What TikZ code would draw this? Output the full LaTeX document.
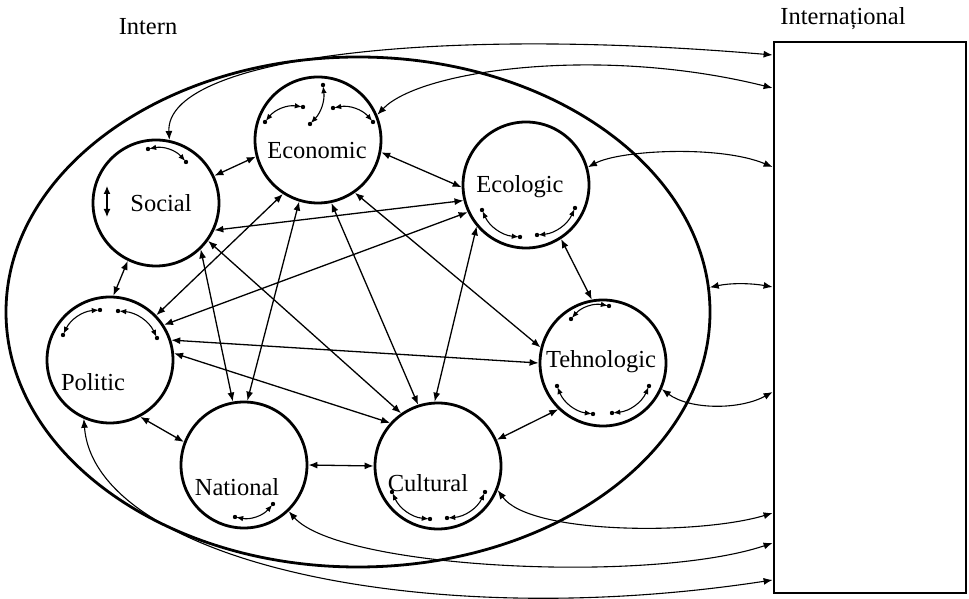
\documentclass[tikz,border=0pt]{standalone}
\usepackage{fontspec}
\setmainfont{Liberation Serif}
\usetikzlibrary{arrows.meta,shapes.geometric}
\newcommand\mylinka[3]{%
  \draw[mini] (#1) to[#3] (#2);
  \fill (#1) circle (2.2pt);
  \fill (#2) circle (2.2pt);}
\begin{document}
\begin{tikzpicture}[x=1pt,y=1pt,
  circ/.style={circle, draw, line width=2.8pt, minimum size=126pt, inner sep=0pt},
  lab/.style={font=\fontsize{24.5}{29}\selectfont, anchor=base, inner sep=0pt},
  link/.style={{Latex[length=9pt,width=7pt]}-{Latex[length=9pt,width=7pt]}, line width=1.3pt},
  ext/.style={{Latex[length=9pt,width=7pt]}-{Latex[length=9pt,width=7pt]}, line width=1.1pt},
  mini/.style={{Latex[length=7pt,width=5.5pt]}-{Latex[length=7pt,width=5.5pt]}, line width=1.1pt, shorten <=1.2pt, shorten >=1.2pt}]
\useasboundingbox (0,0) rectangle (969,599);

% outer ellipse and international box
\node[ellipse, draw, line width=2.8pt, minimum width=704pt, minimum height=510pt, inner sep=0pt] (ell) at (358,287) {};
\node[rectangle, draw, line width=2.8pt, minimum width=192pt, minimum height=551pt, inner sep=0pt] (int) at (870,281.5) {};
\node[lab] (intn) at (148,564) {Intern};
\node[lab] (intl) at (843,574) {Internațional};

% circles
\node[circ] (soc) at (156,396) {};
\node[circ] (eco) at (318,459) {};
\node[circ] (ecl) at (526,414) {};
\node[circ] (pol) at (110,239) {};
\node[circ] (nat) at (244,134) {};
\node[circ] (cul) at (438,133) {};
\node[circ] (teh) at (603,236) {};

% labels
\node[lab] (socT) at (161,387) {Social};
\node[lab] (ecoT) at (317,440) {Economic};
\node[lab] (eclT) at (520,406) {Ecologic};
\node[lab] (polT) at (93,208) {Politic};
\node[lab] (natT) at (237,103) {National};
\node[lab] (culT) at (428,107) {Cultural};
\node[lab] (tehT) at (601,231) {Tehnologic};

% internal connectors
\draw[link] (soc.25) -- (eco.195);
\draw[link] (soc.335) -- (ecl.194);
\draw[link] (soc.324) -- (cul.125);
\draw[link] (soc.314) -- (nat.100);
\draw[link] (soc.244) -- (pol.87);
\draw[link] (eco.349) -- (ecl.182);
\draw[link] (eco.237) -- (pol.44);
\draw[link] (eco.253) -- (nat.87);
\draw[link] (eco.282) -- (cul.108);
\draw[link] (eco.305) -- (teh.166);
\draw[link] (pol.33) -- (ecl.205);
\draw[link] (pol.18) -- (teh.180);
\draw[link] (pol.6) -- (cul.138);
\draw[link] (pol.298) -- (nat.159);
\draw[link] (nat.0) -- (cul.180);
\draw[link] (cul.93) -- (ecl.220);
\draw[link] (cul.24) -- (teh.226);
\draw[link] (ecl.303) -- (teh.100);

% box ends
\coordinate (b1) at (772.6,544);
\coordinate (b2) at (772.6,511);
\coordinate (b3) at (772.6,432);
\coordinate (b4) at (772.6,312);
\coordinate (b5) at (772.6,207);
\coordinate (b6) at (772.6,86);
\coordinate (b7) at (772.6,56);
\coordinate (b8) at (772.6,19);

% external connectors
\draw[ext] (soc.78) .. controls (165,539) and (420,574) .. (b1);
\draw[ext] (eco.23) .. controls (420,529) and (600,554) .. (b2);
\draw[ext] (ecl.16) .. controls (620,449) and (720,454) .. (b3);
\draw[ext] (ell.4) .. controls (730,316) and (750,316) .. (b4);
\draw[ext] (teh.336) .. controls (690,189) and (740,189) .. (b5);
\draw[ext] (cul.338) .. controls (530,64) and (700,64) .. (b6);
\draw[ext] (nat.314) .. controls (340,30) and (650,15) .. (b7);
\draw[ext] (pol.246) .. controls (95,40) and (420,-35) .. (b8);

% small internal arrows
\mylinka{148,450}{186,437}{bend left=30}
\draw[{Latex[length=8pt,width=7pt]}-{Latex[length=8pt,width=7pt]}, line width=1.3pt] (107,413) -- (107,382);
\mylinka{265,477}{303,492}{bend left=30}
\mylinka{323,514}{310,475}{bend left=25}
\mylinka{333,491}{373,477}{bend left=30}
\mylinka{482,389}{520,362}{bend right=30}
\mylinka{537,364}{575,391}{bend right=30}
\mylinka{63,264}{100,289}{bend left=30}
\mylinka{118,288}{157,261}{bend left=30}
\mylinka{235,82}{273,95}{bend right=30}
\mylinka{392,107}{430,80}{bend right=30}
\mylinka{447,81}{485,107}{bend right=30}
\mylinka{571,280}{609,293}{bend left=30}
\mylinka{557,213}{593,185}{bend right=30}
\mylinka{612,186}{649,213}{bend right=30}
\end{tikzpicture}
\end{document}
